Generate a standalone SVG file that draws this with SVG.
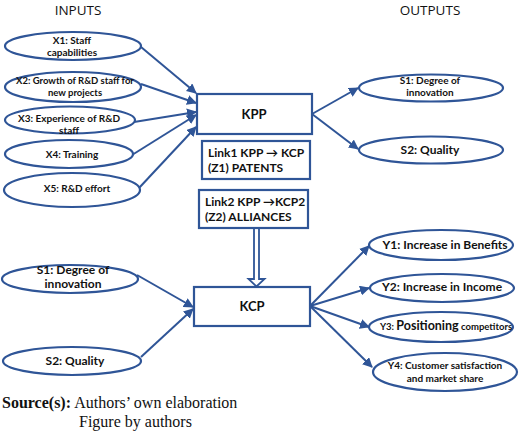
<svg xmlns="http://www.w3.org/2000/svg" width="520" height="434" viewBox="0 0 520 434">
<defs>
<style>
.ell{fill:#fff;stroke:#2F5597;stroke-width:2.2}
.box{fill:#fff;stroke:#2F5597;stroke-width:2.2}
.con{stroke:#2F5597;stroke-width:2;fill:none}
.t{font-family:Lato,"Liberation Sans",sans-serif;font-weight:bold;font-size:10px;fill:#111;text-anchor:middle}
.tl{font-family:Lato,"Liberation Sans",sans-serif;font-weight:bold;font-size:12px;fill:#111}
.h{font-family:"Open Sans","Liberation Sans",sans-serif;font-size:13.5px;fill:#111;text-anchor:middle}
.src{font-family:"Liberation Serif",serif;font-size:16px;fill:#111}
</style>
<marker id="ah" viewBox="0 0 10 10" refX="9" refY="5" markerWidth="5" markerHeight="5" orient="auto" markerUnits="strokeWidth">
<path d="M0,0 L10,5 L0,10 z" fill="#2F5597"/>
</marker>
</defs>
<rect width="520" height="434" fill="#fff"/>
<text class="h" x="78" y="15">INPUTS</text>
<text class="h" x="430" y="15">OUTPUTS</text>

<g id="connectors">
<line class="con" x1="141" y1="47" x2="196" y2="93" marker-end="url(#ah)"/>
<line class="con" x1="141" y1="84" x2="196" y2="103" marker-end="url(#ah)"/>
<line class="con" x1="134" y1="122" x2="196" y2="112" marker-end="url(#ah)"/>
<line class="con" x1="132" y1="155" x2="196" y2="115" marker-end="url(#ah)"/>
<line class="con" x1="139" y1="188" x2="196" y2="127" marker-end="url(#ah)"/>
<line class="con" x1="312" y1="114" x2="358" y2="88" marker-end="url(#ah)"/>
<line class="con" x1="312" y1="114" x2="358" y2="149" marker-end="url(#ah)"/>
<line class="con" x1="137" y1="275" x2="193" y2="307" marker-end="url(#ah)"/>
<line class="con" x1="141" y1="357" x2="193" y2="309" marker-end="url(#ah)"/>
<line class="con" x1="310" y1="306" x2="369" y2="246" marker-end="url(#ah)"/>
<line class="con" x1="310" y1="306" x2="369" y2="288" marker-end="url(#ah)"/>
<line class="con" x1="310" y1="306" x2="369" y2="327" marker-end="url(#ah)"/>
<line class="con" x1="310" y1="306" x2="372" y2="367" marker-end="url(#ah)"/>
<polygon points="254,228 254,279 248.5,279 256.5,286.5 264.5,279 259,279 259,228" fill="#fff" stroke="#2F5597" stroke-width="1.8" stroke-linejoin="miter"/>
</g>

<g id="x1"><ellipse class="ell" cx="73" cy="46" rx="68" ry="14"/>
<text class="t" x="72" y="44">X1: Staff</text><text class="t" x="72" y="56">capabilities</text></g>
<g id="x2"><ellipse class="ell" cx="73" cy="87" rx="68" ry="15"/>
<text class="t" style="font-size:9.5px" x="75" y="84">X2: Growth of R&amp;D staff for</text><text class="t" style="font-size:9.5px" x="75" y="96">new projects</text></g>
<g id="x3"><ellipse class="ell" cx="70" cy="120" rx="65" ry="13.5"/>
<text class="t" x="69" y="122">X3: Experience of R&amp;D</text><text class="t" x="69" y="134">staff</text></g>
<g id="x4"><ellipse class="ell" cx="69" cy="154" rx="64" ry="14"/>
<text class="t" x="72" y="158">X4: Training</text></g>
<g id="x5"><ellipse class="ell" cx="72" cy="190" rx="68" ry="17"/>
<text class="t" x="77" y="192">X5: R&amp;D effort</text></g>

<g id="kpp"><rect class="box" x="197" y="94" width="115" height="40"/>
<text class="t" style="font-size:13px" x="254" y="119">KPP</text></g>
<g id="link1"><rect class="box" x="202" y="141" width="108" height="38"/>
<text class="tl" x="208" y="157">Link1 KPP → KCP</text><text class="tl" x="208" y="172">(Z1) PATENTS</text></g>
<g id="link2"><rect class="box" x="199" y="190" width="109" height="38"/>
<text class="tl" x="205" y="206">Link2 KPP →KCP2</text><text class="tl" x="205" y="221">(Z2) ALLIANCES</text></g>
<g id="kcp"><rect class="box" x="194" y="287" width="116" height="39"/>
<text class="t" style="font-size:13px" x="252" y="311">KCP</text></g>

<g id="s1-out"><ellipse class="ell" cx="431" cy="88" rx="72" ry="13.5"/>
<text class="t" x="430" y="84">S1: Degree of</text><text class="t" x="430" y="96">innovation</text></g>
<g id="s2-out"><ellipse class="ell" cx="431" cy="150" rx="72" ry="13.5"/>
<text class="t" style="font-size:12px" x="430" y="154">S2: Quality</text></g>

<g id="s1-in"><ellipse class="ell" cx="70" cy="279" rx="68" ry="14"/>
<text class="t" style="font-size:12px" x="73" y="274">S1: Degree of</text><text class="t" style="font-size:12px" x="73" y="288">innovation</text></g>
<g id="s2-in"><ellipse class="ell" cx="72" cy="361" rx="69" ry="14"/>
<text class="t" style="font-size:12px" x="75" y="365">S2: Quality</text></g>

<g id="y1"><ellipse class="ell" cx="441" cy="245" rx="72" ry="15"/>
<text class="t" style="font-size:12px" x="445" y="249">Y1: Increase in Benefits</text></g>
<g id="y2"><ellipse class="ell" cx="442" cy="288" rx="72" ry="14"/>
<text class="t" style="font-size:12px" x="442" y="291">Y2: Increase in Income</text></g>
<g id="y3"><ellipse class="ell" cx="441" cy="327" rx="72" ry="15"/>
<text class="t" style="font-size:9.5px" x="446" y="330"><tspan>Y3: </tspan><tspan style="font-size:12.5px">Positioning</tspan><tspan> competitors</tspan></text></g>
<g id="y4"><ellipse class="ell" cx="445" cy="372" rx="72" ry="19"/>
<text class="t" x="445" y="369">Y4: Customer satisfaction</text><text class="t" x="445" y="382">and market share</text></g>

<text class="src" x="2" y="408"><tspan font-weight="bold">Source(s):</tspan> Authors’ own elaboration</text>
<text class="src" x="79" y="427">Figure by authors</text>
</svg>
